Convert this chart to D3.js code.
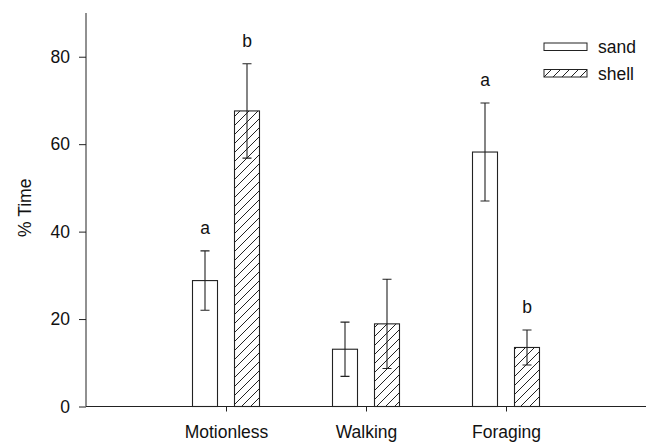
<!DOCTYPE html>
<html>
<head>
<meta charset="utf-8">
<script src="https://cdn.jsdelivr.net/npm/d3@7"></script>
<style>
  html, body { margin: 0; padding: 0; background: #fff; }
  svg text { font-family: "Liberation Sans", Arial, sans-serif; fill: #111; }
</style>
</head>
<body>
<svg id="chart" width="646" height="444"></svg>
<script>
// Behaviour categories and the two substrate series
const categories = ["Motionless", "Walking", "Foraging"];
const seriesNames = ["sand", "shell"];

// Mean % time and error (±) per category
const sandMean = [28.8, 13.1, 58.2];
const sandErr = [6.8, 6.2, 11.2];
const shellMean = [67.6, 18.9, 13.5];
const shellErr = [10.8, 10.2, 4.0];

// Significance letters above the error bars
const sandLetters = ["a", "", "a"];
const shellLetters = ["b", "", "b"];

const yTicks = [0, 20, 40, 60, 80];

const svg = d3.select("#chart");
const ink = "#222";

// Hatch pattern for the shell series
const defs = svg.append("defs");
const pat = defs.append("pattern")
  .attr("id", "hatch")
  .attr("patternUnits", "userSpaceOnUse")
  .attr("width", 9).attr("height", 9);
pat.append("path")
  .attr("d", "M0,9 L9,0 M-2,2 L2,-2 M7,11 L11,7")
  .attr("stroke", ink).attr("stroke-width", 1).attr("fill", "none");

const x = d3.scalePoint().domain(categories).range([86, 646]).padding(1);
const xs = d3.scalePoint().domain(seriesNames).range([-21, 21]);
const y = d3.scaleLinear().domain([0, 90]).range([406.5, 13]);
const barW = 25;

const series = [
  { name: "sand", mean: sandMean, err: sandErr, letters: sandLetters, fill: "#fff" },
  { name: "shell", mean: shellMean, err: shellErr, letters: shellLetters, fill: "url(#hatch)" }
];

// Y axis
const yAxis = svg.append("g")
  .attr("transform", "translate(86,0)")
  .call(d3.axisLeft(y).tickValues(yTicks).tickSize(7).tickPadding(9).tickSizeOuter(0));
yAxis.select(".domain").attr("stroke", ink).attr("d", `M0,${y(90)}V${y(0)}`);
yAxis.selectAll(".tick line").attr("stroke", ink);
yAxis.selectAll(".tick text")
  .attr("font-size", 17.5)
  .style("font-family", "'Liberation Sans', Arial, sans-serif")
  .attr("fill", "#111");

// X axis
const xAxis = svg.append("g")
  .attr("transform", `translate(0,${y(0)})`)
  .call(d3.axisBottom(x).tickSize(5).tickPadding(14).tickSizeOuter(0));
xAxis.select(".domain").attr("stroke", ink).attr("d", `M86,0H646`);
xAxis.selectAll(".tick line").attr("stroke", ink);
xAxis.selectAll(".tick text")
  .attr("font-size", 17.5)
  .style("font-family", "'Liberation Sans', Arial, sans-serif")
  .attr("fill", "#111");

// Y axis title
svg.append("text")
  .attr("transform", `translate(31,${(y(0) + y(90)) / 2 - 2}) rotate(-90)`)
  .attr("text-anchor", "middle")
  .attr("font-size", 17.5)
  .text("% Time");

// Bars, error bars and letters
series.forEach(s => {
  const g = svg.append("g");
  categories.forEach((c, i) => {
    const cx = x(c) + xs(s.name);
    g.append("rect")
      .attr("x", cx - barW / 2)
      .attr("y", y(s.mean[i]))
      .attr("width", barW)
      .attr("height", y(0) - y(s.mean[i]))
      .attr("fill", s.fill)
      .attr("stroke", ink)
      .attr("stroke-width", 1.1);
    const hi = y(s.mean[i] + s.err[i]);
    const lo = y(s.mean[i] - s.err[i]);
    g.append("path")
      .attr("d", `M${cx},${hi}V${lo}M${cx - 4.5},${hi}H${cx + 4.5}M${cx - 4.5},${lo}H${cx + 4.5}`)
      .attr("stroke", ink).attr("stroke-width", 1.1).attr("fill", "none");
    if (s.letters[i]) {
      g.append("text")
        .attr("x", cx)
        .attr("y", hi - 17)
        .attr("text-anchor", "middle")
        .attr("font-size", 17.5)
        .text(s.letters[i]);
    }
  });
});

// Legend
const legend = svg.append("g");
series.forEach((s, i) => {
  const ly = 43 + i * 26.5;
  legend.append("rect")
    .attr("x", 544).attr("y", ly)
    .attr("width", 43).attr("height", 7.5)
    .attr("fill", s.fill).attr("stroke", ink).attr("stroke-width", 1);
  legend.append("text")
    .attr("x", 598).attr("y", ly + 4)
    .attr("dy", "0.35em")
    .attr("font-size", 17.5)
    .text(s.name);
});
</script>
</body>
</html>
